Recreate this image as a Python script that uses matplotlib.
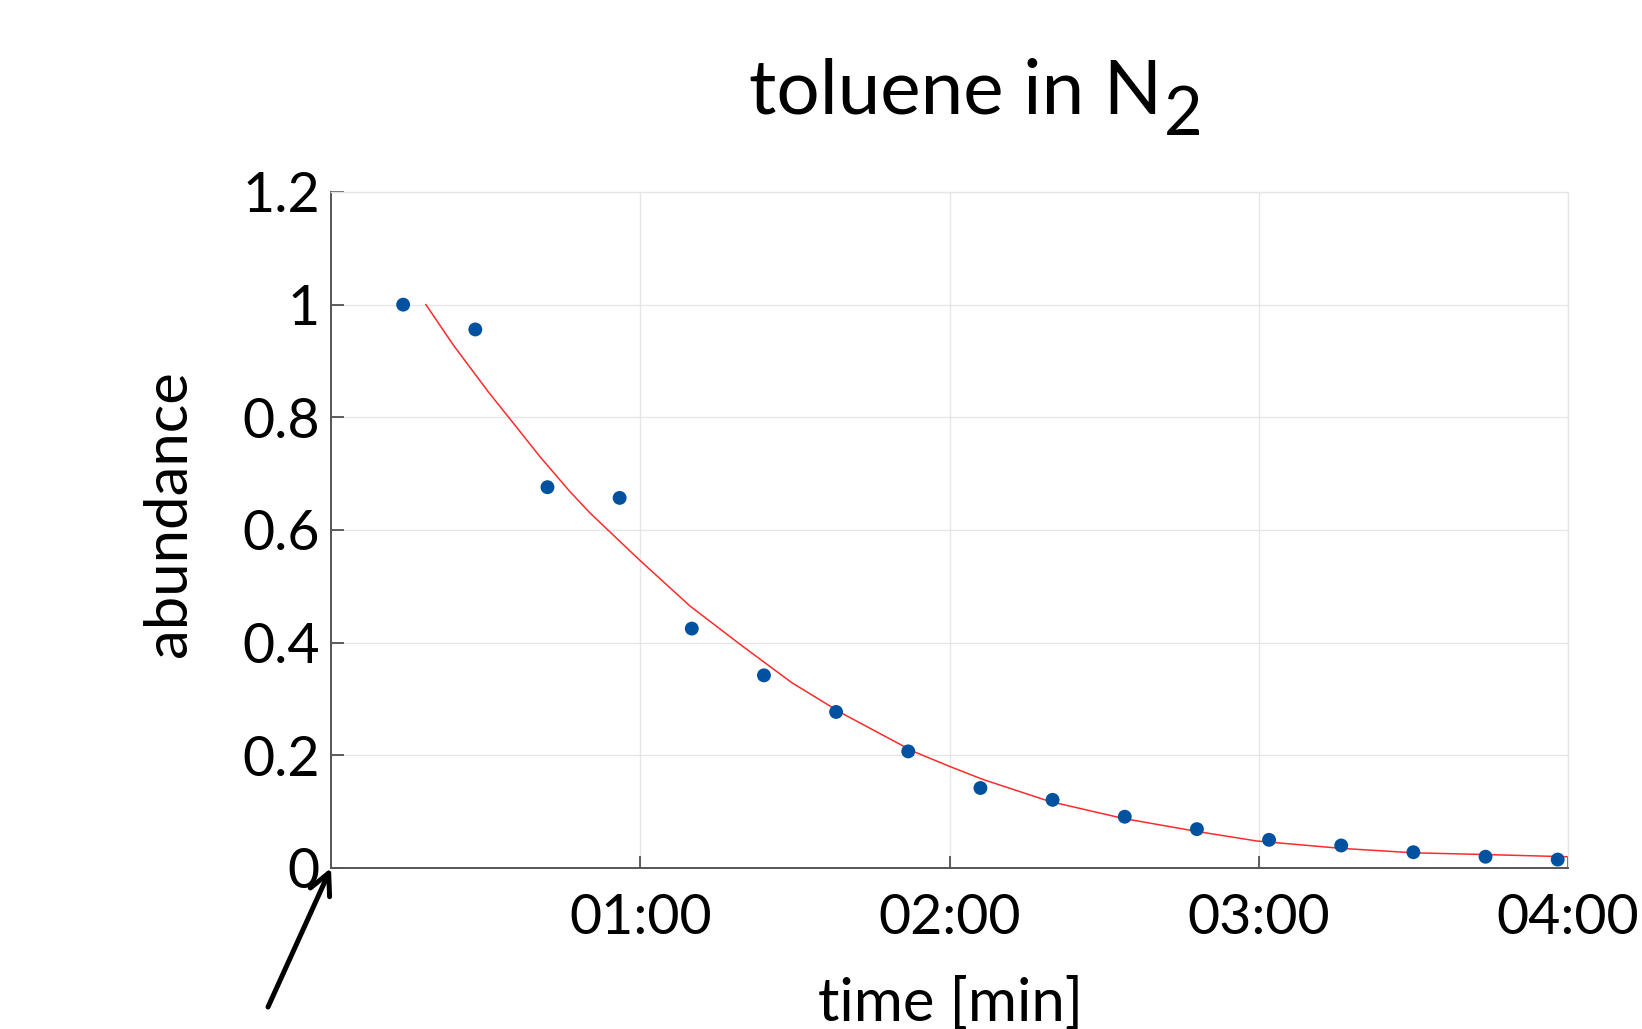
import matplotlib
matplotlib.use('Agg')
import matplotlib.pyplot as plt
import numpy as np

# ---- data ----
time_s = [14, 28, 42, 56, 70, 84, 98, 112, 126, 140, 154, 168, 182, 196, 210, 224, 238]
abundance = [1.000, 0.956, 0.676, 0.657, 0.425, 0.342, 0.277, 0.207, 0.142, 0.121,
             0.091, 0.069, 0.050, 0.040, 0.028, 0.020, 0.015]

fit_time_min = [0.307, 0.396, 0.509, 0.579, 0.676, 0.773, 0.838, 0.999, 1.161, 1.323,
                1.490, 1.651, 1.883, 2.002, 2.109, 2.325, 2.562, 2.799, 2.993, 3.263,
                3.500, 3.726, 3.996]
fit_abundance = [1.000, 0.928, 0.845, 0.797, 0.730, 0.668, 0.630, 0.546, 0.465, 0.397,
                 0.329, 0.275, 0.207, 0.180, 0.157, 0.118, 0.088, 0.065, 0.048, 0.035,
                 0.027, 0.024, 0.020]

xtick_minutes = [1, 2, 3, 4]
xtick_labels = ['01:00', '02:00', '03:00', '04:00']
ytick_values = [0, 0.2, 0.4, 0.6, 0.8, 1.0, 1.2]
ytick_labels = ['0', '0.2', '0.4', '0.6', '0.8', '1', '1.2']

plt.rcParams['font.family'] = ['Lato', 'DejaVu Sans']

W, H = 1642, 1029
fig = plt.figure(figsize=(W / 100, H / 100), dpi=100)
L, R, T, B = 331, 1568, 192, 868
ax = fig.add_axes([L / W, 1 - B / H, (R - L) / W, (B - T) / H])

ax.set_xlim(0, 4)
ax.set_ylim(0, 1.2)

grid_c = '#E6E6E6'
ax.set_xticks(xtick_minutes)
ax.set_xticklabels(xtick_labels)
ax.set_yticks(ytick_values)
ax.set_yticklabels(ytick_labels)
ax.grid(True, color=grid_c, lw=1.0, zorder=0)
ax.set_axisbelow(True)

for s in ['top', 'right']:
    ax.spines[s].set_color(grid_c)
    ax.spines[s].set_linewidth(1.0)
for s in ['left', 'bottom']:
    ax.spines[s].set_color('#555555')
    ax.spines[s].set_linewidth(1.4)

ax.tick_params(axis='both', direction='in', length=9, width=1.2, color='#444444',
               labelsize=40, labelcolor='black')
ax.tick_params(axis='x', pad=18)
ax.tick_params(axis='y', pad=8)
ax.tick_params(top=False, right=False)

ax.plot(fit_time_min, fit_abundance, color='#FF2A2A', lw=1.1, zorder=2, clip_on=True)
ax.scatter(np.array(time_s) / 60.0, abundance, s=100, color='#0052A0',
           edgecolors='none', zorder=3, clip_on=False)

# axis labels
fig.text(169 / W, 1 - 514 / H, 'abundance', rotation=90, ha='center', va='center',
         fontsize=43)
fig.text(951 / W, 1 - 976 / H, 'time [min]', ha='center', va='top', fontsize=43)

# title with large subscript
t = fig.text(749 / W, 1 - 114 / H, 'toluene in N', ha='left', va='baseline', fontsize=55)
fig.canvas.draw()
ax.annotate('2', xy=(1, 0), xycoords=t, xytext=(1, -6), textcoords='offset points',
            ha='left', va='baseline', fontsize=48, annotation_clip=False)

# arrow pointing at origin
ax.annotate('', xy=(0, 0), xycoords='data',
            xytext=(268 / W, 1 - 1007 / H), textcoords='figure fraction',
            arrowprops=dict(arrowstyle='->', lw=3.6, color='black', mutation_scale=38,
                            shrinkA=0, shrinkB=0),
            annotation_clip=False)

fig.savefig('out.png', dpi=100)
